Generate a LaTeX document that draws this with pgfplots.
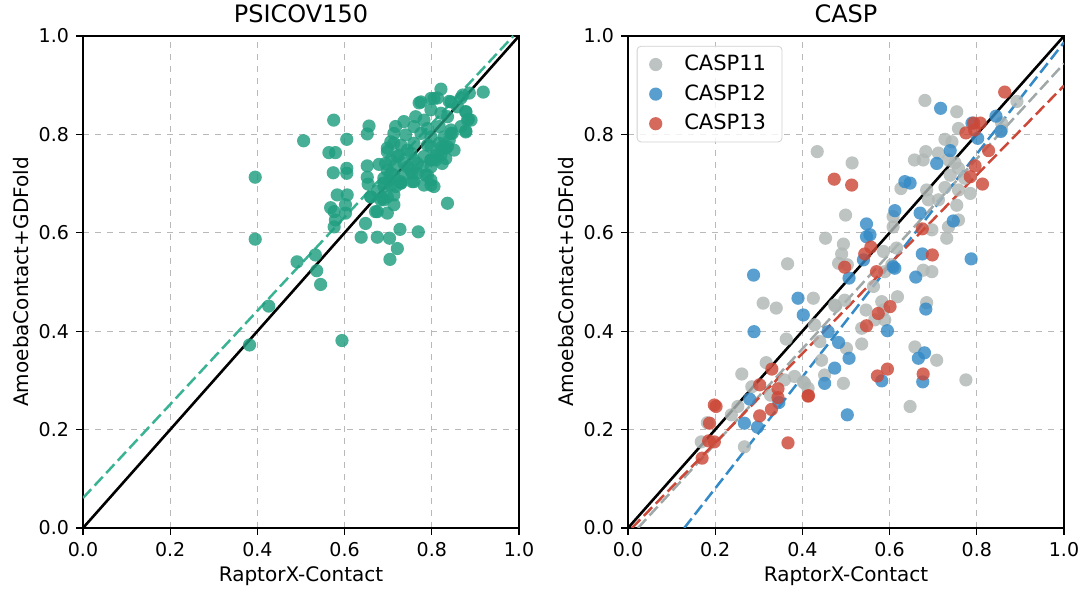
\documentclass[border=0pt]{standalone}
\usepackage{pgfplots}
\pgfplotsset{compat=1.18}
\usepackage{fontspec}
\setmainfont{DejaVu Sans}
\definecolor{teal1}{RGB}{32,158,128}
\definecolor{teall}{RGB}{58,178,148}
\definecolor{c11}{RGB}{175,183,181}
\definecolor{c11l}{RGB}{160,168,168}
\definecolor{c12}{RGB}{52,138,198}
\definecolor{c13}{RGB}{204,72,56}
\pgfplotsset{
  myax/.style={
    scale only axis, width=218pt, height=246pt,
    xmin=0, xmax=1, ymin=0, ymax=1,
    xtick={0,0.2,0.4,0.6,0.8,1}, ytick={0,0.2,0.4,0.6,0.8,1},
    xticklabels={0.0,0.2,0.4,0.6,0.8,1.0}, yticklabels={0.0,0.2,0.4,0.6,0.8,1.0},
    tick align=outside, xtick pos=bottom, ytick pos=left,
    major tick length=3.5pt,
    tick style={black, line width=0.6pt},
    axis line style={line width=0.7pt},
    grid=major, grid style={dashed, gray!55, line width=0.5pt},
    /pgf/number format/assume math mode=true,
    ticklabel style={font=\fontsize{9.5}{11}\selectfont},
    xlabel={RaptorX-Contact}, ylabel={AmoebaContact+GDFold},
    label style={font=\fontsize{10}{12}\selectfont},
    xlabel style={yshift=2pt},
    ylabel style={yshift=-2pt},
    title style={font=\fontsize{12}{14}\selectfont, yshift=-3pt},
  },
  pts/.style={only marks, mark=*, mark size=3.3pt, color=#1,
    mark options={solid, fill=#1, draw opacity=0, fill opacity=0.82}},
  fitl/.style={forget plot, #1, dash pattern=on 6pt off 2.5pt, line width=1.25pt},
}
\begin{document}
\begin{tikzpicture}
\useasboundingbox (-41.5pt,-33pt) rectangle (500pt,264pt);
\begin{axis}[myax, at={(0,0)}, anchor=south west, title={PSICOV150}]
\addplot[pts=teal1] coordinates {
(0.395,0.713)(0.395,0.587)(0.382,0.372)(0.426,0.451)(0.491,0.541)(0.533,0.555)(0.536,0.523)(0.545,0.495)
(0.594,0.381)(0.506,0.787)(0.575,0.829)(0.564,0.763)(0.579,0.763)(0.605,0.790)(0.656,0.817)(0.652,0.801)
(0.574,0.722)(0.605,0.731)(0.605,0.721)(0.652,0.736)(0.679,0.739)(0.652,0.713)(0.654,0.699)(0.583,0.677)
(0.606,0.677)(0.568,0.651)(0.576,0.643)(0.602,0.657)(0.602,0.640)(0.579,0.626)(0.576,0.612)(0.648,0.619)
(0.638,0.591)(0.675,0.591)(0.703,0.589)(0.727,0.607)(0.769,0.602)(0.721,0.568)(0.704,0.546)(0.836,0.660)
(0.918,0.886)(0.821,0.892)(0.771,0.864)(0.798,0.873)(0.813,0.874)(0.840,0.867)(0.867,0.874)(0.878,0.846)
(0.884,0.831)(0.878,0.807)(0.844,0.802)(0.832,0.772)(0.821,0.758)(0.798,0.748)(0.798,0.697)(0.786,0.717)
(0.755,0.704)(0.729,0.701)(0.713,0.657)(0.698,0.640)(0.671,0.643)(0.660,0.673)(0.690,0.667)(0.713,0.677)
(0.805,0.873)(0.775,0.866)(0.844,0.866)(0.871,0.880)(0.886,0.884)(0.798,0.850)(0.821,0.843)(0.859,0.856)
(0.878,0.846)(0.836,0.836)(0.890,0.829)(0.763,0.836)(0.782,0.829)(0.736,0.826)(0.759,0.816)(0.790,0.812)
(0.817,0.816)(0.844,0.809)(0.867,0.816)(0.882,0.829)(0.717,0.816)(0.713,0.802)(0.740,0.799)(0.775,0.802)
(0.798,0.795)(0.828,0.795)(0.847,0.802)(0.878,0.805)(0.706,0.785)(0.729,0.778)(0.759,0.782)(0.790,0.778)
(0.817,0.782)(0.836,0.775)(0.851,0.768)(0.698,0.765)(0.725,0.758)(0.752,0.762)(0.782,0.755)(0.809,0.758)
(0.832,0.751)(0.694,0.741)(0.717,0.738)(0.744,0.734)(0.767,0.741)(0.798,0.734)(0.824,0.741)(0.809,0.748)
(0.706,0.721)(0.736,0.717)(0.767,0.721)(0.798,0.707)(0.759,0.704)(0.729,0.701)(0.782,0.697)(0.805,0.694)
(0.690,0.701)(0.702,0.707)(0.717,0.694)(0.698,0.772)(0.713,0.782)(0.721,0.755)(0.744,0.768)(0.706,0.748)
(0.736,0.741)(0.752,0.727)(0.759,0.748)(0.698,0.727)(0.690,0.711)(0.713,0.717)(0.729,0.704)(0.755,0.721)
(0.790,0.717)(0.778,0.734)(0.798,0.748)(0.813,0.755)(0.824,0.775)(0.798,0.775)(0.690,0.694)(0.706,0.697)
(0.698,0.673)(0.683,0.667)(0.675,0.684)(0.687,0.670)(0.660,0.673)(0.675,0.643)(0.828,0.772)(0.840,0.788)
};
\addplot[fitl=teall] coordinates {(0,0.061)(0.987,1)};
\addplot[forget plot, black, line width=1.3pt] coordinates {(0,0)(1,1)};
\end{axis}
\begin{axis}[myax, at={(272.5pt,0)}, anchor=south west, title={CASP},
  legend style={at={(0.02,0.98)}, anchor=north west, draw=black!18, rounded corners=2pt,
    fill=white, fill opacity=0.8, text opacity=1, font=\fontsize{10.5}{12.5}\selectfont,
    inner xsep=6pt, inner ysep=2.5pt, row sep=1.5pt,
    /tikz/every odd column/.append style={column sep=9pt},
    /tikz/every even column/.append style={column sep=4pt}},
  legend cell align=left]
\addplot[pts=c11] coordinates {
(0.434,0.765)(0.514,0.742)(0.681,0.869)(0.754,0.846)(0.892,0.867)(0.857,0.823)(0.758,0.812)(0.727,0.790)
(0.743,0.785)(0.683,0.765)(0.712,0.762)(0.657,0.748)(0.677,0.748)(0.735,0.748)(0.750,0.742)(0.758,0.731)
(0.739,0.717)(0.772,0.711)(0.785,0.680)(0.758,0.687)(0.727,0.692)(0.626,0.690)(0.685,0.687)(0.689,0.667)
(0.712,0.667)(0.754,0.656)(0.758,0.626)(0.735,0.612)(0.731,0.589)(0.697,0.606)(0.608,0.633)(0.608,0.612)
(0.499,0.636)(0.453,0.589)(0.494,0.577)(0.490,0.557)(0.483,0.538)(0.503,0.535)(0.366,0.537)(0.425,0.467)
(0.476,0.451)(0.497,0.463)(0.586,0.562)(0.616,0.569)(0.605,0.535)(0.589,0.521)(0.563,0.491)(0.677,0.524)
(0.697,0.521)(0.618,0.470)(0.582,0.460)(0.586,0.443)(0.685,0.458)(0.546,0.443)(0.310,0.457)(0.340,0.447)
(0.363,0.384)(0.428,0.413)(0.440,0.379)(0.317,0.336)(0.261,0.313)(0.284,0.287)(0.327,0.270)(0.359,0.301)
(0.382,0.308)(0.402,0.297)(0.413,0.284)(0.444,0.341)(0.451,0.311)(0.182,0.214)(0.168,0.175)(0.267,0.165)
(0.237,0.230)(0.252,0.247)(0.474,0.453)(0.589,0.423)(0.566,0.423)(0.536,0.406)(0.536,0.374)(0.501,0.365)
(0.494,0.294)(0.405,0.294)(0.658,0.368)(0.708,0.341)(0.775,0.301)(0.647,0.247)(0.857,0.809)
};
\addlegendentry{CASP11}
\addplot[pts=c12] coordinates {
(0.717,0.853)(0.844,0.837)(0.855,0.806)(0.802,0.792)(0.789,0.823)(0.739,0.767)(0.708,0.741)(0.635,0.704)
(0.647,0.701)(0.670,0.640)(0.746,0.624)(0.612,0.645)(0.547,0.618)(0.547,0.592)(0.555,0.596)(0.540,0.545)
(0.507,0.508)(0.390,0.467)(0.402,0.433)(0.608,0.531)(0.612,0.528)(0.660,0.510)(0.675,0.557)(0.787,0.547)
(0.683,0.445)(0.288,0.514)(0.289,0.399)(0.459,0.399)(0.483,0.377)(0.474,0.325)(0.451,0.294)(0.279,0.262)
(0.346,0.255)(0.267,0.213)(0.297,0.205)(0.507,0.345)(0.503,0.230)(0.595,0.401)(0.666,0.345)(0.680,0.356)
(0.676,0.297)(0.582,0.299)
};
\addlegendentry{CASP12}
\addplot[pts=c13] coordinates {
(0.864,0.886)(0.473,0.709)(0.513,0.697)(0.808,0.823)(0.793,0.823)(0.775,0.803)(0.795,0.809)(0.827,0.767)
(0.796,0.736)(0.785,0.714)(0.813,0.699)(0.675,0.608)(0.557,0.571)(0.543,0.557)(0.497,0.530)(0.570,0.521)
(0.698,0.555)(0.601,0.450)(0.574,0.436)(0.547,0.411)(0.595,0.323)(0.572,0.309)(0.677,0.313)(0.414,0.269)
(0.367,0.173)(0.330,0.323)(0.302,0.291)(0.344,0.283)(0.344,0.265)(0.329,0.241)(0.302,0.228)(0.413,0.268)
(0.198,0.250)(0.202,0.247)(0.187,0.213)(0.185,0.177)(0.198,0.175)(0.170,0.142)
};
\addlegendentry{CASP13}
\addplot[fitl=c11l] coordinates {(0.023,0)(1,0.944)};
\addplot[fitl=c12] coordinates {(0.129,0)(1,0.987)};
\addplot[fitl=c13] coordinates {(0.009,0)(1,0.899)};
\addplot[forget plot, black, line width=1.3pt] coordinates {(0,0)(1,1)};
\end{axis}
\end{tikzpicture}
\end{document}
